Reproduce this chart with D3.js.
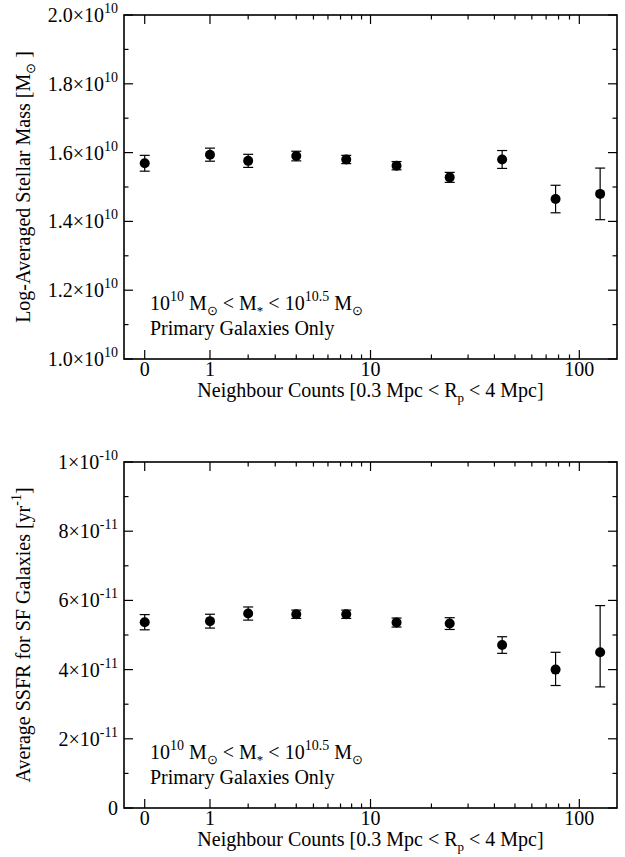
<!DOCTYPE html>
<html>
<head>
<meta charset="utf-8">
<script src="https://cdn.jsdelivr.net/npm/d3@7"></script>
<style>
  html, body { margin: 0; padding: 0; background: #fff; }
  svg { display: block; }
  text { font-family: "Liberation Serif", "Times New Roman", Times, serif; fill: #000; }
</style>
</head>
<body>
<script>
// Neighbour-count bins (plotted on a log(1+N) axis)
const neighbourCounts = [0, 1, 2, 4, 7.5, 13.5, 24.5, 43.5, 77.5, 125];

// Upper panel: log-averaged stellar mass [M_sun], with lower/upper error
const stellarMass       = [1.569e10, 1.594e10, 1.576e10, 1.590e10, 1.580e10, 1.562e10, 1.528e10, 1.580e10, 1.465e10, 1.480e10];
const stellarMassErrLo  = [0.023e10, 0.019e10, 0.019e10, 0.014e10, 0.012e10, 0.012e10, 0.0145e10, 0.026e10, 0.040e10, 0.075e10];
const stellarMassErrHi  = [0.023e10, 0.019e10, 0.019e10, 0.014e10, 0.012e10, 0.012e10, 0.0145e10, 0.026e10, 0.040e10, 0.075e10];

// Lower panel: average specific SFR of star-forming galaxies [yr^-1], with lower/upper error
const ssfr       = [5.37e-11, 5.40e-11, 5.62e-11, 5.60e-11, 5.60e-11, 5.36e-11, 5.33e-11, 4.71e-11, 4.00e-11, 4.50e-11];
const ssfrErrLo  = [0.22e-11, 0.20e-11, 0.19e-11, 0.12e-11, 0.12e-11, 0.13e-11, 0.17e-11, 0.24e-11, 0.46e-11, 1.00e-11];
const ssfrErrHi  = [0.22e-11, 0.20e-11, 0.19e-11, 0.12e-11, 0.12e-11, 0.13e-11, 0.17e-11, 0.24e-11, 0.50e-11, 1.35e-11];

// Axis ticks
const xMajorTicks = [0, 1, 10, 100];
const xMinorTicks = [2, 3, 4, 5, 6, 7, 8, 9, 20, 30, 40, 50, 60, 70, 80, 90];
const xTickLabels = ["0", "1", "10", "100"];

const massMajorTicks = [1.0e10, 1.2e10, 1.4e10, 1.6e10, 1.8e10, 2.0e10];
const massMinorTicks = [1.1e10, 1.3e10, 1.5e10, 1.7e10, 1.9e10];
const massTickLabels = [["1.0×10", "10"], ["1.2×10", "10"], ["1.4×10", "10"], ["1.6×10", "10"], ["1.8×10", "10"], ["2.0×10", "10"]];

const ssfrMajorTicks = [0, 2e-11, 4e-11, 6e-11, 8e-11, 1e-10];
const ssfrMinorTicks = [1e-11, 3e-11, 5e-11, 7e-11, 9e-11];
const ssfrTickLabels = [["0", null], ["2×10", "-11"], ["4×10", "-11"], ["6×10", "-11"], ["8×10", "-11"], ["1×10", "-10"]];

const W = 625, H = 857;
const left = 124, right = 617;
const majorLen = 9, minorLen = 4.5;
const fontSize = 20, smallSize = 14;

const svg = d3.select("body").append("svg")
  .attr("width", W).attr("height", H)
  .attr("viewBox", `0 0 ${W} ${H}`);

// log(1 + N) axis shared by both panels
const x = d3.scaleSymlog().constant(1).domain([-0.246, 149.7]).range([left, right]);

// Writes a run of text pieces; "sup"/"sub" pieces are raised/lowered and set smaller.
function richText(textSel, parts) {
  let offset = 0;
  parts.forEach(([str, kind]) => {
    const target = kind === "sup" ? -9 : kind === "sub" ? 5 : 0;
    const ts = textSel.append("tspan").text(str).attr("dy", target - offset);
    ts.attr("font-size", kind === "sub" ? 13 : kind === "sup" ? smallSize : fontSize);
    offset = target;
  });
}

const annotation = [
  ["10", null], ["10", "sup"], [" M", null], ["\u2299", "sub"], [" < M", null], ["*", "sub"],
  [" < 10", null], ["10.5", "sup"], [" M", null], ["\u2299", "sub"]
];
const xLabel = [["Neighbour Counts [0.3 Mpc < R", null], ["p", "sub"], [" < 4 Mpc]", null]];

function drawPanel(cfg) {
  const g = svg.append("g");
  const y = d3.scaleLinear().domain(cfg.domain).range([cfg.bottom, cfg.top]);

  // frame
  g.append("rect")
    .attr("x", left).attr("y", cfg.top)
    .attr("width", right - left).attr("height", cfg.bottom - cfg.top)
    .attr("fill", "none").attr("stroke", "#000").attr("stroke-width", 1.6);

  const tickG = g.append("g").attr("stroke", "#000").attr("stroke-width", 1.2);

  // x ticks (bottom and mirrored top, pointing inward)
  const xTicks = xMajorTicks.map(v => [v, majorLen]).concat(xMinorTicks.map(v => [v, minorLen]));
  xTicks.forEach(([v, len]) => {
    const px = x(v);
    tickG.append("line").attr("x1", px).attr("x2", px).attr("y1", cfg.bottom).attr("y2", cfg.bottom - len);
    tickG.append("line").attr("x1", px).attr("x2", px).attr("y1", cfg.top).attr("y2", cfg.top + len);
  });

  // y ticks (left and mirrored right)
  const yTicks = cfg.major.map(v => [v, majorLen]).concat(cfg.minor.map(v => [v, minorLen]));
  yTicks.forEach(([v, len]) => {
    const py = y(v);
    tickG.append("line").attr("x1", left).attr("x2", left + len).attr("y1", py).attr("y2", py);
    tickG.append("line").attr("x1", right).attr("x2", right - len).attr("y1", py).attr("y2", py);
  });

  // x tick labels
  xMajorTicks.forEach((v, i) => {
    g.append("text").attr("x", x(v)).attr("y", cfg.bottom + 17)
      .attr("text-anchor", "middle").attr("font-size", fontSize).text(xTickLabels[i]);
  });

  // y tick labels
  cfg.major.forEach((v, i) => {
    const [base, exp] = cfg.labels[i];
    const t = g.append("text").attr("x", 118).attr("y", y(v) + 7)
      .attr("text-anchor", "end").attr("font-size", fontSize);
    const parts = [[base, null]];
    if (exp) parts.push([exp, "sup"]);
    richText(t, parts);
  });

  // x-axis title
  const xt = g.append("text").attr("x", (left + right) / 2).attr("y", cfg.bottom + 38)
    .attr("text-anchor", "middle").attr("font-size", fontSize);
  richText(xt, xLabel);

  // y-axis title
  const yc = (cfg.top + cfg.bottom) / 2;
  const yt = g.append("text").attr("transform", `translate(30,${yc}) rotate(-90)`)
    .attr("text-anchor", "middle").attr("font-size", fontSize);
  richText(yt, cfg.yTitle);

  // annotation
  const a1 = g.append("text").attr("x", 150).attr("y", cfg.bottom - 49).attr("font-size", fontSize);
  richText(a1, annotation);
  g.append("text").attr("x", 150).attr("y", cfg.bottom - 24).attr("font-size", fontSize)
    .text("Primary Galaxies Only");

  // error bars
  const eb = g.append("g").attr("stroke", "#000").attr("stroke-width", 1.2);
  const cap = 5;
  neighbourCounts.forEach((n, i) => {
    const px = x(n);
    const lo = y(cfg.values[i] - cfg.errLo[i]);
    const hi = y(cfg.values[i] + cfg.errHi[i]);
    eb.append("line").attr("x1", px).attr("x2", px).attr("y1", lo).attr("y2", hi);
    eb.append("line").attr("x1", px - cap).attr("x2", px + cap).attr("y1", lo).attr("y2", lo);
    eb.append("line").attr("x1", px - cap).attr("x2", px + cap).attr("y1", hi).attr("y2", hi);
  });

  // markers
  g.append("g").selectAll("circle")
    .data(neighbourCounts.map((n, i) => [n, cfg.values[i]]))
    .join("circle")
    .attr("cx", d => x(d[0])).attr("cy", d => y(d[1]))
    .attr("r", 5).attr("fill", "#000");
}

drawPanel({
  top: 15, bottom: 359,
  domain: [1.0e10, 2.0e10],
  major: massMajorTicks, minor: massMinorTicks, labels: massTickLabels,
  values: stellarMass, errLo: stellarMassErrLo, errHi: stellarMassErrHi,
  yTitle: [["Log-Averaged Stellar Mass [M", null], ["\u2299", "sub"], [" ]", null]]
});

drawPanel({
  top: 462, bottom: 808,
  domain: [0, 1e-10],
  major: ssfrMajorTicks, minor: ssfrMinorTicks, labels: ssfrTickLabels,
  values: ssfr, errLo: ssfrErrLo, errHi: ssfrErrHi,
  yTitle: [["Average SSFR for SF Galaxies [yr", null], ["-1", "sup"], ["]", null]]
});
</script>
</body>
</html>
